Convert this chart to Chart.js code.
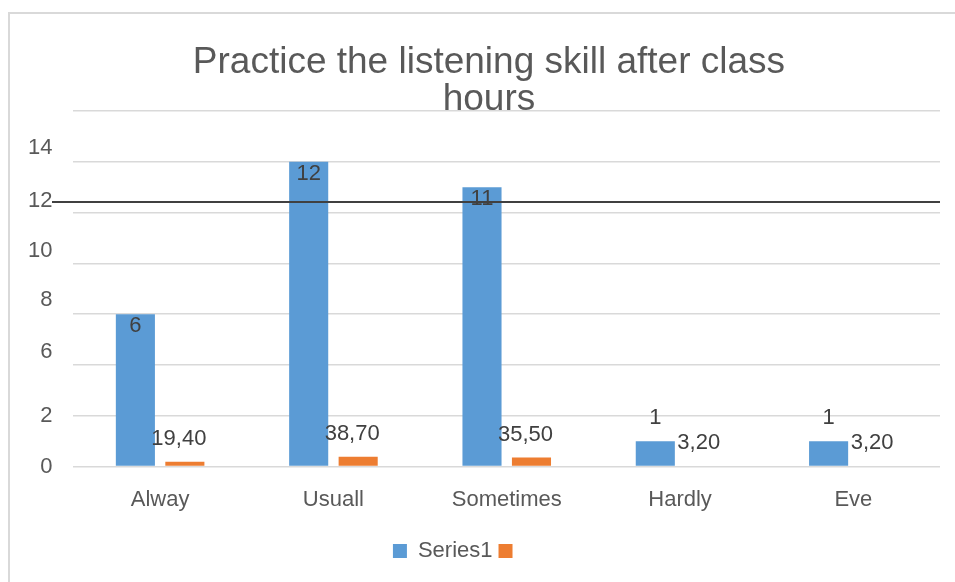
<!DOCTYPE html>
<html>
<head>
<meta charset="utf-8">
<script src="https://cdn.jsdelivr.net/npm/chart.js@4"></script>
<style>
  html, body { margin: 0; padding: 0; background: #ffffff; }
  #wrap { width: 955px; height: 582px; }
</style>
</head>
<body>
<div id="wrap"><canvas id="c" width="955" height="582"></canvas></div>
<script>
// ---- data ----
const titleLines = ['   Practice the listening skill after class', '   hours'];
const categories = ['Alway', 'Usuall', 'Sometimes', 'Hardly', 'Eve'];
const series1Name = 'Series1';
const series1Values = [6, 12, 11, 1, 1];
const series2Name = '     ';
const series2Values = [0.194, 0.387, 0.355, 0.032, 0.032];
const yTickLabels = ['0', '2', '6', '8', '10', '12', '14'];
const yTickLabelValues = [0, 2, 4.52, 6.58, 8.5, 10.45, 12.55];
const refLineValue = 10.42;

const FONT = "'Liberation Sans', Arial, sans-serif";
const TEXT = '#595959';
const LABEL = '#404040';

const framePlugin = {
  id: 'frame',
  beforeDraw(chart) {
    const ctx = chart.ctx;
    ctx.save();
    ctx.fillStyle = '#ffffff';
    ctx.fillRect(0, 0, chart.width, chart.height);
    ctx.strokeStyle = '#d9d9d9';
    ctx.lineWidth = 2;
    ctx.strokeRect(9, 13, 2000, 2000);
    ctx.restore();
  }
};

const labelPlugin = {
  id: 'valueLabels',
  afterDatasetsDraw(chart) {
    const ctx = chart.ctx;
    ctx.save();
    ctx.font = '22px ' + FONT;
    ctx.fillStyle = LABEL;
    ctx.textAlign = 'center';
    ctx.textBaseline = 'alphabetic';
    chart.data.datasets.forEach((ds, di) => {
      const meta = chart.getDatasetMeta(di);
      meta.data.forEach((bar, i) => {
        const v = ds.data[i];
        if (di === 0) {
          const h = bar.base - bar.y;
          if (h > 30) {
            ctx.fillText(String(v), bar.x, bar.y + 18);
          } else {
            ctx.fillText(String(v), bar.x, bar.y - 17);
          }
        } else {
          const txt = (v * 100).toFixed(2).replace('.', ',');
          ctx.fillText(txt, bar.x - 6, bar.y - 17);
        }
      });
    });
    ctx.restore();
  },
  afterDraw(chart) {
    const ctx = chart.ctx;
    const y = chart.scales.y.getPixelForValue(refLineValue);
    ctx.save();
    ctx.strokeStyle = '#404040';
    ctx.lineWidth = 2;
    ctx.beginPath();
    ctx.moveTo(52, y);
    ctx.lineTo(chart.chartArea.right, y);
    ctx.stroke();
    ctx.restore();
  }
};

new Chart(document.getElementById('c'), {
  type: 'bar',
  data: {
    labels: categories,
    datasets: [
      { label: series1Name, data: series1Values, backgroundColor: '#5b9bd5',
        categoryPercentage: 0.571, barPercentage: 0.79 },
      { label: series2Name, data: series2Values, backgroundColor: '#ed7d31',
        categoryPercentage: 0.571, barPercentage: 0.79 }
    ]
  },
  options: {
    responsive: false,
    devicePixelRatio: 1,
    animation: false,
    layout: { padding: { top: 12, left: 7, right: 15, bottom: 10 } },
    plugins: {
      title: {
        display: true,
        text: titleLines,
        color: TEXT,
        font: { family: FONT, size: 37, weight: 'normal', lineHeight: 1.0 },
        padding: { top: 32, bottom: -7 }
      },
      legend: {
        position: 'bottom',
        labels: {
          color: TEXT,
          font: { family: FONT, size: 22 },
          boxWidth: 14,
          boxHeight: 14,
          padding: 6
        }
      },
      tooltip: { enabled: false }
    },
    scales: {
      x: {
        grid: { display: false, drawTicks: false },
        border: { display: false },
        ticks: { color: TEXT, font: { family: FONT, size: 22 }, padding: 20.5, maxRotation: 0 }
      },
      y: {
        min: 0, max: 14,
        position: 'left',
        grid: { color: '#d9d9d9', lineWidth: 1.5, drawTicks: false },
        border: { display: false },
        ticks: { display: false, stepSize: 2 }
      },
      y2: {
        min: 0, max: 14,
        position: 'left',
        grid: { display: false, drawTicks: false },
        border: { display: false },
        afterBuildTicks: (axis) => { axis.ticks = yTickLabelValues.map(v => ({ value: v })); },
        ticks: {
          color: TEXT,
          font: { family: FONT, size: 22 },
          padding: 21,
          autoSkip: false,
          callback: (v, i) => yTickLabels[i]
        }
      }
    }
  },
  plugins: [framePlugin, labelPlugin]
});
</script>
</body>
</html>
